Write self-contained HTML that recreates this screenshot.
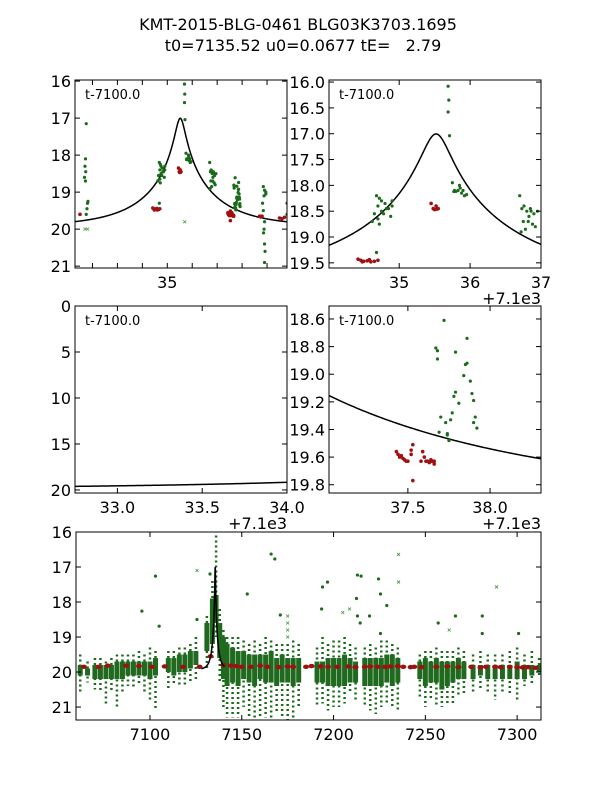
<!DOCTYPE html>
<html><head><meta charset="utf-8">
<style>
body{margin:0;background:#fff;}
svg{display:block;font-family:"DejaVu Sans","Liberation Sans",sans-serif;}
</style></head>
<body>
<svg id="fig" width="600" height="800" viewBox="0 0 600 800">
<text x="298" y="30" text-anchor="middle" font-size="16">KMT-2015-BLG-0461 BLG03K3703.1695</text>
<text x="303" y="51" text-anchor="middle" font-size="16" xml:space="preserve">t0=7135.52 u0=0.0677 tE=   2.79</text>
</svg>
<script>
// ---- model parameters ----
const t0 = 35.52, u0 = 0.0677, tE = 2.79, mBase = 19.93;
// ---- detailed photometry (t - 7100, mag) ----
const greenT = [31.75,31.72,31.70,31.73,31.68,31.72,31.80,31.78,31.75,31.82,
 34.68,34.72,34.75,34.70,34.80,34.85,34.90,34.75,34.65,34.70,34.78,34.88,34.72,34.62,34.68,34.82,34.90,
 35.69,35.70,35.69,35.71,
 35.75,35.78,35.80,35.83,35.86,35.88,35.90,35.92,35.85,35.77,35.95,
 36.70,36.73,36.76,36.80,36.83,36.86,36.90,36.75,36.78,36.82,36.88,36.72,36.92,36.95,36.85,
 37.72,37.86,37.67,37.68,37.68,37.79,37.86,37.85,37.84,37.88,37.89,37.79,37.90,37.78,37.81,37.91,37.90,37.92,37.70,37.73,37.77,37.76,37.69,37.74,37.74,37.75,37.75,
 38.85,38.90,38.95,38.88,38.82,38.85,38.90,38.88,38.86,38.90,38.92,38.90,38.95,39.80,39.80];
const greenM = [17.15,18.10,18.30,18.45,18.60,18.70,19.30,19.45,19.60,19.25,
 18.20,18.25,18.30,18.40,18.35,18.45,18.40,18.50,18.55,18.65,18.55,18.60,18.75,18.70,19.30,18.45,18.30,
 16.08,16.35,16.58,17.04,
 17.95,18.10,18.12,18.10,18.05,18.15,18.10,18.20,18.00,18.12,18.18,
 18.20,18.45,18.40,18.50,18.60,18.50,18.55,18.70,18.85,18.70,18.75,18.90,18.80,18.50,18.45,
 18.61,18.74,18.81,18.83,18.89,18.84,18.92,18.93,19.01,19.05,19.14,19.13,19.19,19.16,19.21,19.31,19.35,19.39,19.31,19.35,19.28,19.33,19.42,19.43,19.44,19.48,19.48,
 18.85,18.95,19.00,19.10,19.30,19.50,19.80,20.00,20.10,20.40,20.60,20.90,19.05,19.30,19.60];
const redT = [31.50,35.45,35.48,35.50,35.53,35.55,35.52,34.42,34.46,34.50,34.55,34.60,34.65,34.70,34.48,34.58,
 37.43,37.44,37.45,37.46,37.47,37.48,37.49,37.50,37.52,37.52,37.53,37.53,37.59,37.58,37.60,37.61,37.62,37.63,37.64,37.64,37.65,37.66,37.66,
 38.70,38.75,38.80,39.50,39.60,39.70];
const redM = [19.60,18.35,18.45,18.47,18.46,18.45,18.40,19.43,19.45,19.47,19.46,19.48,19.47,19.45,19.48,19.44,
 19.56,19.58,19.60,19.59,19.61,19.62,19.63,19.63,19.58,19.55,19.51,19.77,19.56,19.63,19.60,19.63,19.63,19.64,19.63,19.62,19.63,19.65,19.63,
 19.65,19.67,19.65,19.70,19.72,19.68];
const xMarkT = [31.70,31.80,35.70];
const xMarkM = [20.0,20.0,19.8];
// ---- full season (HJD-2450000) per-night ranges ----
const nightT = [7062,7066,7070,7073,7076,7079,7082,7085,7088,7091,7094,7097,7100,7103,7110,7113,7116,7119,7122,7125,7131,7134,7136,7138,7140,7142,7145,7148,7151,7154,7157,7160,7163,7166,7169,7172,7175,7178,7181,7191,7194,7197,7200,7203,7206,7209,7212,7217,7220,7223,7226,7229,7232,7235,7247,7250,7253,7256,7259,7262,7265,7268,7271,7276,7280,7284,7288,7292,7296,7300,7304,7308,7312];
const coreTop = [19.8,19.9,19.8,19.8,19.8,19.8,19.7,19.7,19.7,19.7,19.7,19.7,19.7,19.6,19.6,19.6,19.5,19.5,19.4,19.4,18.6,17.9,17.8,18.6,19.0,19.2,19.3,19.4,19.4,19.5,19.5,19.5,19.5,19.4,19.6,19.5,19.6,19.6,19.6,19.7,19.7,19.6,19.6,19.6,19.5,19.6,19.7,19.6,19.6,19.6,19.6,19.5,19.5,19.6,19.7,19.6,19.7,19.6,19.7,19.7,19.7,19.6,19.7,19.8,19.8,19.8,19.8,19.8,19.8,19.7,19.8,19.8,19.8];
const coreBot = [20.1,20.1,20.2,20.2,20.2,20.2,20.2,20.2,20.1,20.1,20.1,20.1,20.2,20.1,20.0,20.1,20.0,20.0,19.9,19.8,19.4,19.2,18.6,19.6,20.2,20.4,20.3,20.4,20.2,20.3,20.4,20.2,20.3,20.3,20.4,20.3,20.3,20.4,20.3,20.3,20.3,20.4,20.4,20.4,20.4,20.3,20.3,20.4,20.4,20.4,20.4,20.3,20.4,20.3,20.2,20.4,20.3,20.3,20.5,20.4,20.3,20.2,20.2,20.2,20.1,20.2,20.2,20.2,20.2,20.2,20.2,20.1,20.0];
const extTop = [19.5,19.7,19.6,19.6,19.7,19.6,19.5,19.5,19.5,19.5,19.4,19.5,19.3,19.4,19.4,19.4,19.3,19.3,19.2,19.0,18.4,17.4,16.1,18.2,18.8,19.0,19.0,19.0,19.1,19.2,19.1,19.2,19.0,19.1,19.2,19.2,19.2,19.1,19.2,19.3,19.0,19.2,19.1,19.1,19.0,19.2,19.3,19.3,19.2,19.3,19.1,19.1,19.2,19.3,19.5,19.4,19.4,19.3,19.4,19.4,19.4,19.3,19.4,19.5,19.4,19.5,19.5,19.5,19.4,19.3,19.5,19.4,19.6];
const extBot = [20.6,20.3,20.5,20.6,20.9,20.6,21.0,20.6,20.4,20.5,20.4,20.6,20.8,21.1,20.5,20.4,20.4,20.4,20.3,20.2,19.9,19.6,19.0,20.3,21.0,21.3,21.3,21.3,21.0,21.3,21.3,21.3,21.3,21.4,21.2,21.3,21.4,21.3,21.0,21.0,20.9,21.1,21.0,21.0,20.9,20.6,20.8,21.0,21.1,21.2,21.0,20.9,21.0,21.1,20.7,21.0,20.8,21.0,21.0,20.9,20.9,20.7,20.6,20.6,20.5,20.6,20.8,20.6,20.6,20.8,20.4,20.4,20.1];
const redNightT = [7064,7072,7077,7087,7094,7101,7108,7118,7127,7133,7140,7144,7147,7150,7155,7160,7164,7170,7175,7178,7185,7188,7193,7197,7202,7208,7212,7217,7220,7224,7228,7231,7235,7238,7242,7244,7248,7256,7262,7268,7275,7280,7283,7288,7291,7296,7300,7303,7306,7310];
const redNightM = [19.85,19.85,19.82,19.82,19.83,19.85,19.84,19.85,19.85,19.55,19.80,19.82,19.83,19.85,19.85,19.82,19.85,19.86,19.84,19.85,19.85,19.83,19.84,19.85,19.85,19.84,19.86,19.85,19.84,19.85,19.85,19.84,19.83,19.85,19.86,19.85,19.86,19.85,19.84,19.86,19.85,19.87,19.85,19.85,19.86,19.85,19.86,19.87,19.86,19.88];
const outT = [7103,7095.6,7105,7153,7166,7168,7171,7125.6,7132.7,7194,7196.7,7213,7215,7224.5,7225.6,7229,7212.5,7193.5,7213,7214.5,7219.6,7225.6,7257,7266.4,7281,7281,7300.8];
const outM = [17.26,18.26,18.69,17.77,16.63,16.77,18.37,18.5,17.2,17.57,17.43,17.23,17.26,17.34,17.77,18.1,17.9,18.2,18.4,18.6,18.4,18.9,18.6,18.4,18.4,18.9,18.9];
const outXT = [7125.6,7235.4,7235.4,7288.8,7208.7,7205,7263,7175,7175,7175,7175];
const outXM = [17.1,16.64,17.43,17.57,18.2,18.3,18.8,18.4,18.6,18.8,19.0];

const NS = "http://www.w3.org/2000/svg";
const fig = document.getElementById('fig');
function mk(tag, attrs, parent){const e=document.createElementNS(NS,tag);for(const k in attrs)e.setAttribute(k,attrs[k]);(parent||fig).appendChild(e);return e;}
function model(t){const u=Math.sqrt(u0*u0+Math.pow((t-t0)/tE,2));const A=(u*u+2)/(u*Math.sqrt(u*u+4));return mBase-2.5*Math.log10(A);}

let clipN=0;
function panel(name, px, py, w, h, tmin, tmax, mmin, mmax, xticks, xlabels, yticks, ylabels, offset, label){
  const sx=t=>px+(t-tmin)/(tmax-tmin)*w;
  const sy=m=>py+(m-mmin)/(mmax-mmin)*h;
  const g=mk('g',{});
  
  
  const cid='clip'+(clipN++);
  const cp=mk('clipPath',{id:cid},g); mk('rect',{x:px,y:py,width:w,height:h},cp);
  const plot=mk('g',{'clip-path':'url(#'+cid+')'},g);
  return {sx,sy,g,plot,finish(){
    const fr=mk('rect',{x:px,y:py,width:w,height:h,fill:'none',stroke:'#000','stroke-width':1},g);
    
    
    xticks.forEach((t,i)=>{const x=sx(t);
      mk('line',{x1:x,y1:py+h,x2:x,y2:py+h-5,stroke:'#000'},g);
      mk('line',{x1:x,y1:py,x2:x,y2:py+5,stroke:'#000'},g);
      if(xlabels[i]!==''){const tx=mk('text',{x:x,y:py+h+20,'text-anchor':'middle','font-size':16},g);tx.textContent=xlabels[i];
        
        }
    });
    yticks.forEach((m,i)=>{const y=sy(m);
      mk('line',{x1:px,y1:y,x2:px+5,y2:y,stroke:'#000'},g);
      mk('line',{x1:px+w,y1:y,x2:px+w-5,y2:y,stroke:'#000'},g);
      const ty=mk('text',{x:px-4,y:y+6,'text-anchor':'end','font-size':16},g);ty.textContent=ylabels[i];
      
      
    });
    if(offset){const to=mk('text',{x:px+w,y:py+h+36,'text-anchor':'end','font-size':16},g);to.textContent=offset;
      
      }
    if(label){const tl=mk('text',{x:px+10,y:py+19,'font-size':13},g);tl.textContent=label;
      
      }
  }};
}
function drawCurve(P,a,b,n,off){let d='';for(let i=0;i<=n;i++){const t=a+(b-a)*i/n;d+=(i?'L':'M')+P.sx(t+off).toFixed(2)+','+P.sy(model(t)).toFixed(2);}
  const c=mk('path',{d:d,fill:'none',stroke:'#000','stroke-width':1.5},P.plot);
  
  }
function drawPoints(P,off){
  greenT.forEach((t,i)=>{const c=mk('circle',{cx:P.sx(t+off),cy:P.sy(greenM[i]),r:1.6,fill:'#1a6b1a'},P.plot);
    
    });
  redT.forEach((t,i)=>{const c=mk('circle',{cx:P.sx(t+off),cy:P.sy(redM[i]),r:1.8,fill:'#a01010'},P.plot);
    
    });
  xMarkT.forEach((t,i)=>{const x=P.sx(t+off),y=P.sy(xMarkM[i]);
    const p=mk('path',{d:`M${x-1.5},${y-1.5}L${x+1.5},${y+1.5}M${x-1.5},${y+1.5}L${x+1.5},${y-1.5}`,stroke:'#3a9a3a','stroke-width':0.8},P.plot);
    
    });
}

// Panel 1: top-left
const P1=panel('panel-top-left',75,80,212,188,31.3,39.8,15.97,21.05,[32,33,34,35,36,37,38,39],['','','','35','','','',''],[16,17,18,19,20,21],['16','17','18','19','20','21'],'', 't-7100.0');
drawCurve(P1,31.3,39.8,400,0); drawPoints(P1,0); P1.finish();
// Panel 2: top-right
const P2=panel('panel-top-right',329,80,212,188,34.01,37.0,15.96,19.60,[35,36,37],['35','36','37'],[16,16.5,17,17.5,18,18.5,19,19.5],['16.0','16.5','17.0','17.5','18.0','18.5','19.0','19.5'],'+7.1e3','t-7100.0');
drawCurve(P2,34.01,37.0,400,0); drawPoints(P2,0); P2.finish();
// Panel 3: middle-left
const P3=panel('panel-middle-left',75,306,212,187,32.75,34.0,0,20.33,[33,33.5,34],['33.0','33.5','34.0'],[0,5,10,15,20],['0','5','10','15','20'],'+7.1e3','t-7100.0');
drawCurve(P3,32.75,34.0,100,0); drawPoints(P3,0); P3.finish();
// Panel 4: middle-right
const P4=panel('panel-middle-right',329,306,212,187,37.02,38.31,18.506,19.86,[37.5,38.0],['37.5','38.0'],[18.6,18.8,19.0,19.2,19.4,19.6,19.8],['18.6','18.8','19.0','19.2','19.4','19.6','19.8'],'+7.1e3','t-7100.0');
drawCurve(P4,37.02,38.31,100,0); drawPoints(P4,0); P4.finish();
// Panel 5: full season
const P5=panel('panel-full-season',76,532,465,188,7059.7,7313,16,21.37,[7100,7150,7200,7250,7300],['7100','7150','7200','7250','7300'],[16,17,18,19,20,21],['16','17','18','19','20','21'],'', '');
nightT.forEach((t,i)=>{const x=P5.sx(t);
  const e=mk('line',{x1:x,y1:P5.sy(extTop[i]),x2:x,y2:P5.sy(extBot[i]),stroke:'#1a6b1a','stroke-width':2.5,'stroke-dasharray':'2,3'},P5.plot);
  
  
  const c=mk('rect',{x:x-2.5,y:P5.sy(coreTop[i]),width:5,height:P5.sy(coreBot[i])-P5.sy(coreTop[i]),fill:'#1f6a1f'},P5.plot);
  
  
});
outT.forEach((t,i)=>{const c=mk('circle',{cx:P5.sx(t),cy:P5.sy(outM[i]),r:1.6,fill:'#1a6b1a'},P5.plot);
  
  });
outXT.forEach((t,i)=>{const x=P5.sx(t),y=P5.sy(outXM[i]);
  const p=mk('path',{d:`M${x-1.5},${y-1.5}L${x+1.5},${y+1.5}M${x-1.5},${y+1.5}L${x+1.5},${y-1.5}`,stroke:'#3a9a3a','stroke-width':0.8},P5.plot);
  
  });
redNightT.forEach((t,i)=>{const c=mk('ellipse',{cx:P5.sx(t),cy:P5.sy(redNightM[i]),rx:3,ry:2.2,fill:'#a01010'},P5.plot);
  
  });
drawCurve(P5,t0-7.5,t0+5,300,7100);
P5.finish();
</script>
</body></html>
